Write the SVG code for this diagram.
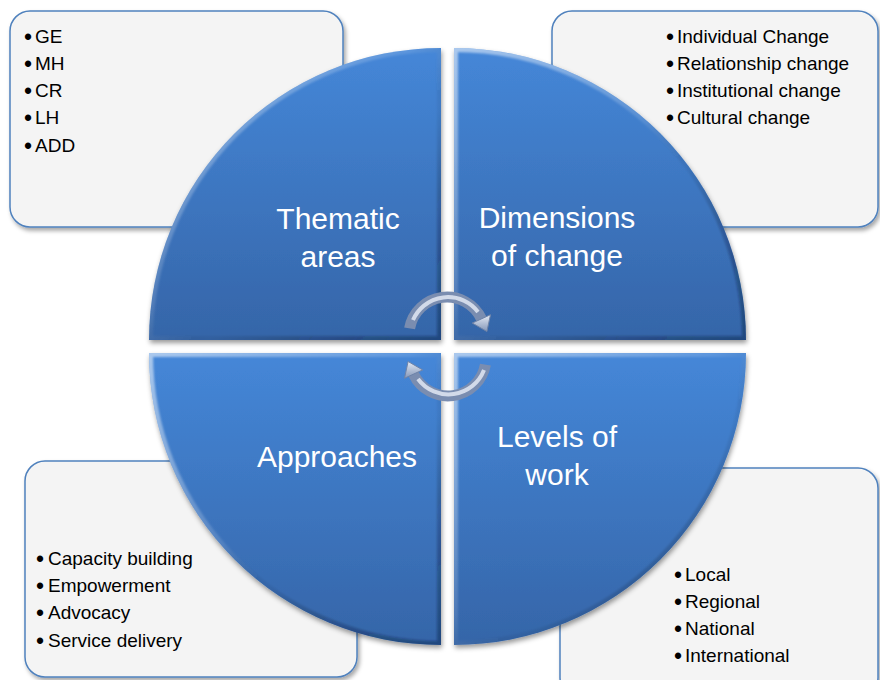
<svg xmlns="http://www.w3.org/2000/svg" width="880" height="680" viewBox="0 0 880 680">
  <style>
    .box { fill: #f4f4f4; stroke: #4f81bd; stroke-width: 1.5; filter: url(#boxShadow); }
    .item { font-family: "Liberation Sans", Arial, sans-serif; font-size: 19px; fill: #000; }
    .dot { font-size: 23px; }
    .label { font-family: "Liberation Sans", Arial, sans-serif; font-size: 30px; fill: #fff; text-anchor: middle; }
    .quad { fill: url(#quadFill); filter: url(#quadShadow); }
    .rim { fill: none; stroke: url(#rimGrad); stroke-width: 8; }
    .tube { fill: none; stroke: #7a8db0; stroke-width: 11; }
    .shine { fill: none; stroke: #e2e8f3; stroke-width: 4; opacity: 0.85; }
    .head { fill: url(#headFill); stroke: #6f83a7; stroke-width: 1; }
  </style>
  <defs>
    <filter id="boxShadow" x="-10%" y="-10%" width="125%" height="130%">
      <feDropShadow dx="2" dy="3" stdDeviation="2" flood-color="#000" flood-opacity="0.35"/>
    </filter>
    <filter id="quadShadow" x="-10%" y="-10%" width="125%" height="125%">
      <feDropShadow dx="1" dy="3" stdDeviation="2.5" flood-color="#000" flood-opacity="0.4"/>
    </filter>
    <filter id="soft"><feGaussianBlur stdDeviation="1.2"/></filter>
    <linearGradient id="quadFill" x1="0" y1="0" x2="0" y2="1">
      <stop offset="0" stop-color="#4587d8"/>
      <stop offset="1" stop-color="#3565a8"/>
    </linearGradient>
    <linearGradient id="rimGrad" x1="0" y1="0" x2="1" y2="1">
      <stop offset="0" stop-color="#ffffff" stop-opacity="0.55"/>
      <stop offset="0.45" stop-color="#ffffff" stop-opacity="0.12"/>
      <stop offset="0.6" stop-color="#000000" stop-opacity="0.05"/>
      <stop offset="1" stop-color="#0a1f40" stop-opacity="0.4"/>
    </linearGradient>
    <linearGradient id="headFill" x1="0" y1="0" x2="0" y2="1">
      <stop offset="0" stop-color="#e4eaf4"/>
      <stop offset="1" stop-color="#8396b8"/>
    </linearGradient>
    <clipPath id="cTL"><path d="M441,340 L149,340 A292,292 0 0 1 441,48 Z"/></clipPath>
    <clipPath id="cTR"><path d="M454,340 L454,48 A292,292 0 0 1 746,340 Z"/></clipPath>
    <clipPath id="cBL"><path d="M441,353 L441,645 A292,292 0 0 1 149,353 Z"/></clipPath>
    <clipPath id="cBR"><path d="M454,353 L746,353 A292,292 0 0 1 454,645 Z"/></clipPath>
  </defs>

  <rect width="880" height="680" fill="#ffffff"/>

  <!-- detail boxes behind the wheel -->
  <g id="box-thematic">
    <rect class="box" x="10" y="11" width="333" height="216" rx="20"/>
    <text class="item" y="43"><tspan class="dot" x="24" dy="2">•</tspan><tspan x="35" dy="-2">GE</tspan></text>
    <text class="item" y="70"><tspan class="dot" x="24" dy="2">•</tspan><tspan x="35" dy="-2">MH</tspan></text>
    <text class="item" y="97"><tspan class="dot" x="24" dy="2">•</tspan><tspan x="35" dy="-2">CR</tspan></text>
    <text class="item" y="124"><tspan class="dot" x="24" dy="2">•</tspan><tspan x="35" dy="-2">LH</tspan></text>
    <text class="item" y="152"><tspan class="dot" x="24" dy="2">•</tspan><tspan x="35" dy="-2">ADD</tspan></text>
  </g>
  <g id="box-dimensions">
    <rect class="box" x="552" y="11" width="326" height="216" rx="20"/>
    <text class="item" y="43"><tspan class="dot" x="666" dy="2">•</tspan><tspan x="677" dy="-2">Individual Change</tspan></text>
    <text class="item" y="70"><tspan class="dot" x="666" dy="2">•</tspan><tspan x="677" dy="-2">Relationship change</tspan></text>
    <text class="item" y="97"><tspan class="dot" x="666" dy="2">•</tspan><tspan x="677" dy="-2">Institutional change</tspan></text>
    <text class="item" y="124"><tspan class="dot" x="666" dy="2">•</tspan><tspan x="677" dy="-2">Cultural change</tspan></text>
  </g>
  <g id="box-approaches">
    <rect class="box" x="25" y="461" width="332" height="216" rx="20"/>
    <text class="item" y="565"><tspan class="dot" x="36" dy="2">•</tspan><tspan x="48" dy="-2">Capacity building</tspan></text>
    <text class="item" y="592"><tspan class="dot" x="36" dy="2">•</tspan><tspan x="48" dy="-2">Empowerment</tspan></text>
    <text class="item" y="619"><tspan class="dot" x="36" dy="2">•</tspan><tspan x="48" dy="-2">Advocacy</tspan></text>
    <text class="item" y="647"><tspan class="dot" x="36" dy="2">•</tspan><tspan x="48" dy="-2">Service delivery</tspan></text>
  </g>
  <g id="box-levels">
    <rect class="box" x="560" y="468" width="318" height="230" rx="20"/>
    <text class="item" y="581"><tspan class="dot" x="674" dy="2">•</tspan><tspan x="685" dy="-2">Local</tspan></text>
    <text class="item" y="608"><tspan class="dot" x="674" dy="2">•</tspan><tspan x="685" dy="-2">Regional</tspan></text>
    <text class="item" y="635"><tspan class="dot" x="674" dy="2">•</tspan><tspan x="685" dy="-2">National</tspan></text>
    <text class="item" y="662"><tspan class="dot" x="674" dy="2">•</tspan><tspan x="685" dy="-2">International</tspan></text>
  </g>

  <!-- wheel quadrants -->
  <g id="node-thematic">
    <path class="quad" d="M441,340 L149,340 A292,292 0 0 1 441,48 Z"/>
    <path class="rim" clip-path="url(#cTL)" filter="url(#soft)" d="M441,340 L149,340 A292,292 0 0 1 441,48 Z"/>
    <text class="label" x="338" y="229">Thematic</text>
    <text class="label" x="338" y="267">areas</text>
  </g>
  <g id="node-dimensions">
    <path class="quad" d="M454,340 L454,48 A292,292 0 0 1 746,340 Z"/>
    <path class="rim" clip-path="url(#cTR)" filter="url(#soft)" d="M454,340 L454,48 A292,292 0 0 1 746,340 Z"/>
    <text class="label" x="557" y="228">Dimensions</text>
    <text class="label" x="557" y="266">of change</text>
  </g>
  <g id="node-approaches">
    <path class="quad" d="M441,353 L441,645 A292,292 0 0 1 149,353 Z"/>
    <path class="rim" clip-path="url(#cBL)" filter="url(#soft)" d="M441,353 L441,645 A292,292 0 0 1 149,353 Z"/>
    <text class="label" x="337" y="467">Approaches</text>
  </g>
  <g id="node-levels">
    <path class="quad" d="M454,353 L746,353 A292,292 0 0 1 454,645 Z"/>
    <path class="rim" clip-path="url(#cBR)" filter="url(#soft)" d="M454,353 L746,353 A292,292 0 0 1 454,645 Z"/>
    <text class="label" x="557" y="447">Levels of</text>
    <text class="label" x="557" y="485">work</text>
  </g>

  <!-- cycle arrows -->
  <g id="connectors">
    <g id="arrow-top">
      <path class="tube" d="M409.6,328.4 A38,38 0 0 1 481.4,318.9"/>
      <path class="shine" transform="translate(0,-2)" d="M413,322 A38,38 0 0 1 478,314"/>
      <polygon class="head" points="490.5,314.7 472.3,323.1 486.9,331.5"/>
    </g>
    <g id="arrow-bottom">
      <path class="tube" d="M485.4,364.6 A38,38 0 0 1 413.6,374.1"/>
      <path class="shine" transform="translate(0,-2)" d="M484,372 A38,38 0 0 1 418,381"/>
      <polygon class="head" points="422.7,369.9 404.5,378.3 408.1,361.5"/>
    </g>
  </g>
</svg>
